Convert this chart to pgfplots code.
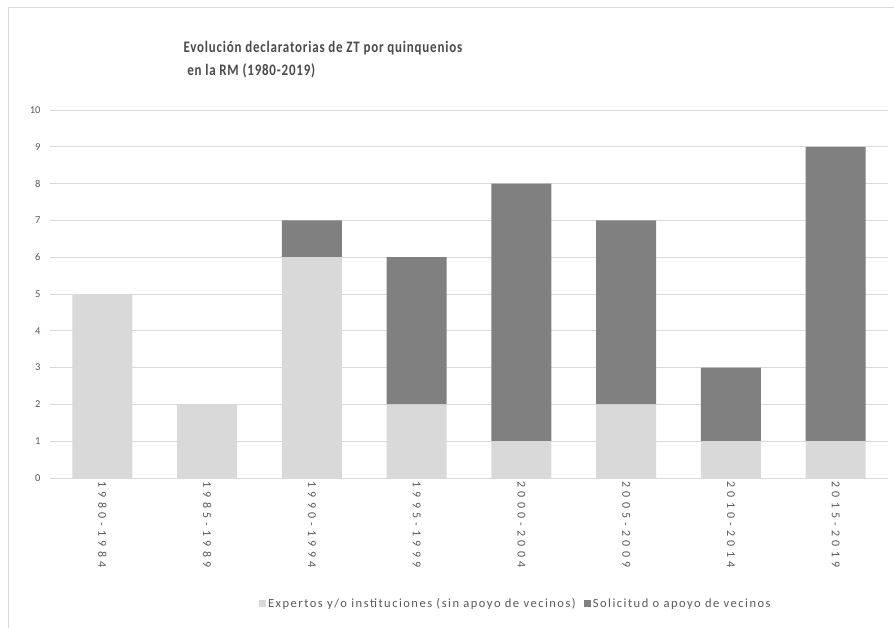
\documentclass[border=0pt]{standalone}
\usepackage{pgfplots}
\pgfplotsset{compat=1.18}
\usepackage{fontspec}
\setmainfont{Carlito}
\newfontfamily\titlefont[LetterSpace=5, FakeStretch=0.81]{Carlito}
\newfontfamily\tickfont[LetterSpace=35]{Carlito}
\newfontfamily\legfont[LetterSpace=12]{Carlito}
\definecolor{lightbar}{HTML}{D9D9D9}
\definecolor{darkbar}{HTML}{808080}
\definecolor{gridc}{HTML}{D9D9D9}
\definecolor{txt}{HTML}{595959}
\definecolor{ttl}{HTML}{4A4A4A}
\begin{document}
\begin{tikzpicture}
\useasboundingbox (0pt,0pt) rectangle (894pt,-628pt);
\fill[white] (0pt,0pt) rectangle (894pt,-628pt);
\draw[gridc, line width=1pt] (8pt,-628pt) -- (8pt,-8pt) -- (894pt,-8pt);
\node[anchor=west, text=ttl, font=\titlefont\bfseries\fontsize{16}{23}\selectfont, align=left] at (180pt,-60pt) {Evolución declaratorias de ZT por quinquenios\\ \ en la RM (1980-2019)};
\begin{axis}[
  at={(50pt,-478pt)}, anchor=south west,
  scale only axis, width=838pt, height=368pt,
  ybar stacked, bar width=60pt,
  xmin=-0.5, xmax=7.5, ymin=0, ymax=10,
  ytick={0,1,...,10},
  xtick=data,
  xticklabels={1980-1984,1985-1989,1990-1994,1995-1999,2000-2004,2005-2009,2010-2014,2015-2019},
  x tick label style={rotate=-90, anchor=west, font=\tickfont\fontsize{12}{12}\selectfont, text=txt},
  y tick label style={font=\fontsize{10.5}{12}\selectfont, text=txt},
  /pgf/number format/assume math mode=true,
  ymajorgrids, grid style={gridc, line width=1pt},
  axis line style={draw=none},
  major tick length=0pt,
  yticklabel style={xshift=-6pt},
  legend columns=2,
  legend style={draw=none, fill=none, at={(rel axis cs:0.556,-0.342)}, anchor=center, font=\legfont\fontsize{12.5}{14}\selectfont, text=txt, /tikz/every even column/.append style={column sep=6pt}},
  legend image code/.code={\fill[#1] (0pt,-3.5pt) rectangle (7pt,3.5pt);},
]
\addplot[fill=lightbar, draw=none] coordinates {(0,5) (1,2) (2,6) (3,2) (4,1) (5,2) (6,1) (7,1)};
\addplot[fill=darkbar, draw=none] coordinates {(0,0) (1,0) (2,1) (3,4) (4,7) (5,5) (6,2) (7,8)};
\legend{Expertos y/o instituciones (sin apoyo de vecinos), Solicitud o apoyo de vecinos}
\end{axis}
\end{tikzpicture}
\end{document}
